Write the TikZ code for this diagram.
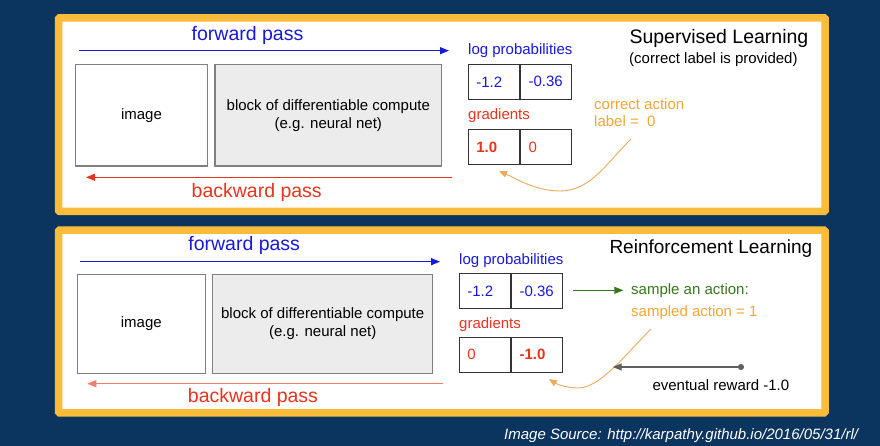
\documentclass[tikz,border=0pt]{standalone}
\usepackage{fontspec}
\setmainfont{Liberation Sans}
\usepackage{xcolor}
\usepackage{tikz}
\usetikzlibrary{arrows.meta}

\definecolor{bgnavy}{RGB}{11,52,94}
\definecolor{panelorange}{RGB}{251,188,60}
\definecolor{fwdblue}{RGB}{25,25,220}
\definecolor{bwdred}{RGB}{232,52,30}
\definecolor{softred}{RGB}{240,125,110}
\definecolor{actorange}{RGB}{244,166,56}
\definecolor{curveorange}{RGB}{236,170,90}
\definecolor{samplegreen}{RGB}{56,118,29}
\definecolor{rewardgray}{RGB}{95,95,95}
\definecolor{blockgray}{RGB}{236,236,236}

\newcommand{\bigtxt}{\fontsize{19.5}{22}\selectfont}
\newcommand{\smalltxt}{\fontsize{15}{18}\selectfont}

\begin{document}
\begin{tikzpicture}[x=1pt, y=-1pt,
    panel/.style={draw=panelorange, line width=7.5pt, fill=white, rounded corners=1pt},
    box/.style={draw=gray, line width=1.1pt, inner sep=0pt, align=center, font=\smalltxt},
    cell/.style={draw=black!80, line width=1.2pt, minimum height=35pt, text width=35pt,
        inner xsep=8pt, inner ysep=0pt, align=left, font=\smalltxt},
    big/.style={inner sep=0pt, font=\bigtxt},
    small/.style={inner sep=0pt, font=\smalltxt},
    arrow/.style={-{Triangle[length=9pt,width=7pt]}, line width=1.2pt},
    curvearrow/.style={-{Triangle[length=8pt,width=6.5pt]}, line width=0.9pt, draw=curveorange}
]
    \useasboundingbox (0,0) rectangle (880,446);
    \fill[bgnavy] (0,0) rectangle (880,446);

    % Supervised panel
    \draw[panel] (58.6,17.8) rectangle (825,211.5);

    \coordinate (fwdS1) at (79,50.7);
    \coordinate (fwdE1) at (449,50.7);
    \draw[arrow, fwdblue] (fwdS1) -- (fwdE1);
    \node[big, text=fwdblue] (fwdlbl1) at (247.5,35.3) {forward pass};

    \node[box, minimum width=132.4pt, minimum height=101.7pt] (img1) at (141.5,115.2) {image};
    \node[box, fill=blockgray, minimum width=226.7pt, minimum height=101.7pt] (net1) at (328.3,115.2)
        {block of differentiable compute\\(e.g. neural net)};

    \coordinate (bwdS1) at (452,177.3);
    \coordinate (bwdE1) at (86,177.3);
    \draw[arrow, bwdred] (bwdS1) -- (bwdE1);
    \node[big, text=bwdred] (bwdlbl1) at (256.7,192) {backward pass};

    % outputs
    \node[small, anchor=west, text=fwdblue] (lplbl1) at (468,50.3) {log probabilities};
    \node[cell, text=fwdblue] (lpA1) at (493.8,81.8) {-1.2};
    \node[cell, text=fwdblue, anchor=west] (lpB1) at (lpA1.east) {-0.36};
    \node[small, anchor=west, text=bwdred] (grlbl1) at (468,116) {gradients};
    \node[cell, text=bwdred] (grA1) at (493.8,147.2) {\bfseries 1.0};
    \node[cell, text=bwdred, anchor=west] (grB1) at (grA1.east) {0};

    \node[small, anchor=west, text=actorange, align=left, font=\fontsize{15}{17.3}\selectfont] (label1)
        at (594,112.7) {correct action\\label =\ \ 0};
    \coordinate (lblTail1) at (631,139);
    \coordinate (grTip1) at (499,171);
    \draw[curvearrow] (lblTail1) .. controls (605,165) and (590,191) .. (560,191)
        .. controls (535,191) and (515,178) .. (grTip1);

    \node[big, anchor=west] (title1) at (629.3,38) {Supervised Learning};
    \node[small, anchor=west] (sub1) at (629,59.2) {(correct label is provided)};

    % Reinforcement panel
    \draw[panel] (58.6,230.2) rectangle (825,412.8);

    \coordinate (fwdS2) at (80,261.7);
    \coordinate (fwdE2) at (440,261.7);
    \draw[arrow, fwdblue] (fwdS2) -- (fwdE2);
    \node[big, text=fwdblue] (fwdlbl2) at (244.2,245.8) {forward pass};

    \node[box, minimum width=128pt, minimum height=99pt] (img2) at (141.3,323.8) {image};
    \node[box, fill=blockgray, minimum width=220pt, minimum height=99pt] (net2) at (322.7,323.8)
        {block of differentiable compute\\(e.g. neural net)};

    \coordinate (bwdS2) at (443,383.7);
    \coordinate (bwdE2) at (87.3,383.7);
    \draw[arrow, softred] (bwdS2) -- (bwdE2);
    \node[big, text=bwdred] (bwdlbl2) at (253,397.8) {backward pass};

    % outputs
    \node[small, anchor=west, text=fwdblue] (lplbl2) at (459,260.8) {log probabilities};
    \node[cell, text=fwdblue] (lpA2) at (484.8,291.3) {-1.2};
    \node[cell, text=fwdblue, anchor=west] (lpB2) at (lpA2.east) {-0.36};
    \node[small, anchor=west, text=bwdred] (grlbl2) at (459,324.7) {gradients};
    \node[cell, text=bwdred] (grA2) at (484.8,354.7) {0};
    \node[cell, text=bwdred, anchor=west] (grB2) at (grA2.east) {\bfseries -1.0};

    \coordinate (smpS) at (573.3,290.3);
    \coordinate (smpE) at (623.3,290.3);
    \draw[arrow, samplegreen, line width=1pt] (smpS) -- (smpE);
    \node[small, anchor=west, text=samplegreen] (sample) at (631,290.8) {sample an action:};
    \node[small, anchor=west, text=actorange] (sampled) at (631,313) {sampled action = 1};

    \coordinate (smpTail) at (651,329);
    \coordinate (grTip2) at (549,379);
    \draw[curvearrow] (smpTail) .. controls (625,355) and (600,388) .. (578,388)
        .. controls (565,388) and (555,383) .. (grTip2);

    \coordinate (rewS) at (744,367);
    \coordinate (rewE) at (612.7,367);
    \draw[{Circle[length=6pt]}-{Triangle[length=9pt,width=7pt]}, line width=1.1pt, rewardgray] (rewS) -- (rewE);
    \node[small, anchor=west] (reward) at (652.3,384.7) {eventual reward -1.0};

    \node[big, anchor=west, font=\fontsize{19}{22}\selectfont] (title2) at (609.3,248.3) {Reinforcement Learning};

    % source line
    \node[small, anchor=west, text=white, font=\smalltxt\itshape] (source) at (504,436)
        {Image Source: http://karpathy.github.io/2016/05/31/rl/};
\end{tikzpicture}
\end{document}
